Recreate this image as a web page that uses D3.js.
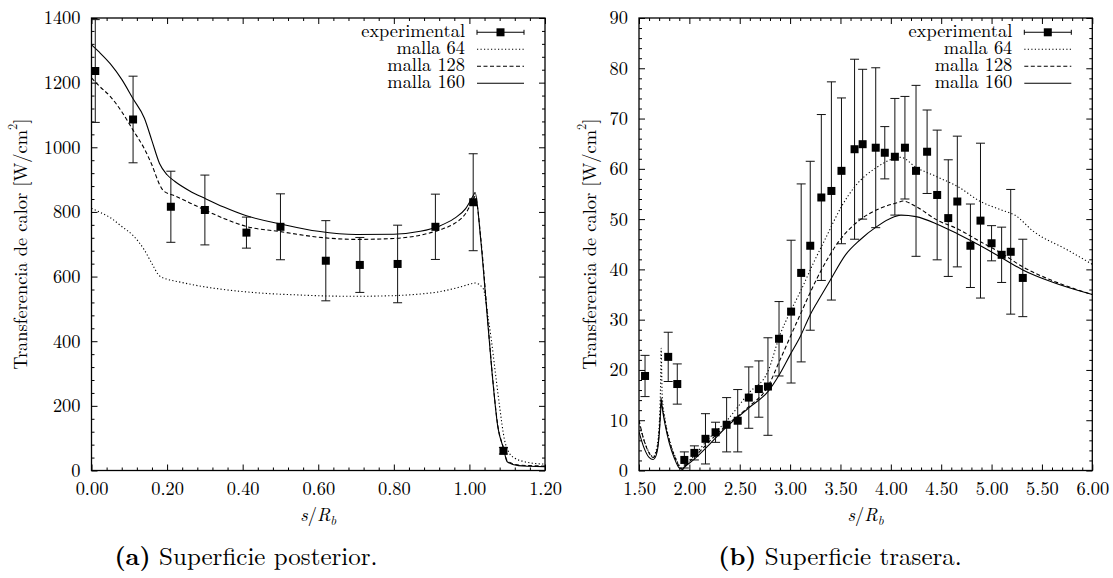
<!DOCTYPE html>
<html>
<head>
  <meta charset="utf-8">
  <title>transferencia de calor</title>
  <style>
    body { margin: 0; background: #fff; overflow: hidden; }
    .tick line { stroke: #000; stroke-width: 1; }
    .frame { fill: none; stroke: #000; stroke-width: 1.3; }
    .curve { fill: none; stroke: #000; stroke-width: 1.1; }
    .ebar { stroke: #111; stroke-width: 1; }
  </style>
</head>
<body>
<svg id="fig" width="1113" height="578"></svg>
<script src="https://cdn.jsdelivr.net/npm/d3@7"></script>
<script>
// ---- (a) superficie posterior ----
var postExpX   = [0.01, 0.11, 0.21, 0.30, 0.41, 0.50, 0.62, 0.71, 0.81, 0.91, 1.01, 1.09];
var postExpY   = [1236, 1086, 816, 806, 736, 754, 649, 636, 639, 754, 830, 61];
var postExpErr = [159, 134, 110, 108, 48, 102, 124, 85, 120, 101, 150, 10];

var post64X  = [0, 0.02, 0.05, 0.08, 0.11, 0.14, 0.16, 0.18, 0.20, 0.23, 0.29, 0.35, 0.46, 0.55, 0.62, 0.70, 0.80, 0.87, 0.92, 0.97, 1.01, 1.015, 1.036, 1.05, 1.058, 1.07, 1.08, 1.093, 1.106, 1.12, 1.14, 1.17, 1.20];
var post64Y  = [811, 800, 782, 755, 727, 682, 640, 602, 592, 584, 570, 560, 548, 543, 540, 539, 541, 546, 553, 566, 579, 580, 564, 470, 404, 290, 197, 94, 53, 38, 29, 22, 20];
var post128X = [0, 0.02, 0.05, 0.08, 0.11, 0.14, 0.16, 0.18, 0.19, 0.22, 0.26, 0.30, 0.35, 0.41, 0.50, 0.60, 0.70, 0.80, 0.87, 0.92, 0.96, 0.99, 1.01, 1.015, 1.03, 1.045, 1.06, 1.075, 1.09, 1.10, 1.13, 1.16, 1.20];
var post128Y = [1215, 1190, 1157, 1110, 1053, 995, 945, 885, 866, 850, 828, 806, 780, 755, 739, 722, 715, 718, 728, 744, 764, 795, 838, 848, 720, 515, 305, 140, 70, 30, 17, 15, 14];
var post160X = [0, 0.02, 0.05, 0.08, 0.11, 0.14, 0.16, 0.18, 0.20, 0.22, 0.26, 0.30, 0.35, 0.41, 0.50, 0.60, 0.70, 0.80, 0.87, 0.92, 0.96, 0.99, 1.01, 1.015, 1.03, 1.045, 1.06, 1.075, 1.09, 1.10, 1.13, 1.16, 1.20];
var post160Y = [1317, 1295, 1258, 1210, 1150, 1090, 1020, 950, 915, 895, 865, 842, 815, 788, 763, 740, 730, 731, 740, 756, 780, 810, 850, 860, 713, 507, 301, 136, 69, 27, 15, 13, 12];

// ---- (b) superficie trasera ----
var trasExpX   = [1.56, 1.79, 1.88, 1.95, 2.05, 2.16, 2.26, 2.37, 2.48, 2.59, 2.69, 2.78, 2.89, 3.01, 3.11, 3.20, 3.31, 3.41, 3.51, 3.64, 3.72, 3.85, 3.94, 4.04, 4.14, 4.25, 4.36, 4.46, 4.57, 4.66, 4.79, 4.89, 5.00, 5.10, 5.19, 5.31];
var trasExpY   = [18.8, 22.6, 17.2, 2.1, 3.5, 6.3, 7.6, 9.1, 9.9, 14.5, 16.2, 16.7, 26.2, 31.6, 39.3, 44.7, 54.3, 55.6, 59.6, 63.9, 64.9, 64.2, 63.2, 62.4, 64.2, 59.6, 63.4, 54.8, 50.2, 53.5, 44.7, 49.7, 45.2, 42.9, 43.5, 38.3];
var trasExpErr = [4.1, 4.9, 4.0, 1.6, 1.4, 5.0, 2.0, 5.4, 6.2, 6.1, 5.6, 9.7, 7.4, 14.2, 17.7, 16.8, 16.5, 21.7, 14.5, 17.9, 14.9, 15.9, 5.2, 11.6, 10.2, 17.0, 8.3, 12.9, 11.6, 13.0, 8.3, 15.4, 3.5, 5.5, 12.4, 7.7];

var tras64X  = [1.50, 1.55, 1.60, 1.64, 1.67, 1.70, 1.715, 1.72, 1.73, 1.76, 1.80, 1.85, 1.90, 1.93, 1.97, 2.04, 2.20, 2.37, 2.59, 2.78, 2.90, 3.00, 3.10, 3.23, 3.36, 3.51, 3.64, 3.86, 4.04, 4.10, 4.25, 4.46, 4.67, 4.89, 5.10, 5.23, 5.42, 5.75, 6.00];
var tras64Y  = [9.5, 6, 3.6, 2.7, 4, 9, 18, 24.3, 15, 10, 6.3, 3.2, 1.0, 0.3, 1.4, 2.8, 6.5, 9.9, 15.4, 19.7, 27, 31.5, 35.5, 41.2, 46.5, 52.5, 56.4, 60.3, 62.1, 62.3, 60.3, 58.4, 56.4, 53.5, 51.8, 50.8, 47.5, 43.9, 41.0];
var tras128X = [1.50, 1.55, 1.60, 1.64, 1.67, 1.70, 1.715, 1.72, 1.73, 1.76, 1.80, 1.85, 1.90, 1.93, 1.97, 2.04, 2.20, 2.37, 2.59, 2.78, 2.90, 3.10, 3.30, 3.50, 3.69, 3.89, 4.07, 4.12, 4.25, 4.46, 4.67, 4.89, 5.10, 5.31, 5.60, 6.00];
var tras128Y = [10, 6, 3.5, 2.6, 3.5, 7.5, 12.5, 14.5, 13, 9.5, 6, 3, 0.8, 0.2, 1.2, 2.5, 5.8, 9.0, 12.7, 16.7, 22, 31, 39.5, 46, 49.8, 52.1, 53.3, 53.6, 52.5, 49.8, 48.0, 45.5, 43.2, 40.5, 37.8, 35.0];
var tras160X = [1.50, 1.55, 1.60, 1.64, 1.67, 1.70, 1.715, 1.72, 1.73, 1.76, 1.80, 1.85, 1.90, 1.93, 1.97, 2.04, 2.20, 2.37, 2.60, 2.78, 2.90, 3.00, 3.10, 3.20, 3.30, 3.40, 3.55, 3.69, 3.86, 4.04, 4.10, 4.25, 4.46, 4.67, 4.89, 5.10, 5.31, 5.60, 6.00];
var tras160Y = [7.7, 4.5, 2.6, 2.2, 3, 7, 12, 14, 12.5, 9, 5.5, 2.5, 0.5, 0.3, 1.0, 2.1, 5.2, 8.7, 12.6, 15.7, 19.3, 23, 26.6, 31, 34.5, 37.9, 42.9, 45.8, 48.5, 50.5, 50.8, 50.5, 49.0, 47.0, 44.7, 42.3, 39.9, 37.5, 35.0];

var legendNames = ["experimental", "malla 64", "malla 128", "malla 160"];
var dashes = [null, "1.2,2.3", "4,2.5", null];
var FONT = "'Latin Modern Roman', 'CMU Serif', 'Liberation Serif', serif";

var svg = d3.select("#fig");

function zip(xs, ys) { return xs.map(function(v, i) { return [v, ys[i]]; }); }
function stepsOf(dom, step) {
  var n = Math.round((dom[1] - dom[0]) / step);
  return d3.range(n + 1).map(function(i) { return +(dom[0] + i*step).toFixed(6); });
}
function txt(sel, size) {
  return sel.style("font-family", FONT).style("font-size", size + "px").style("fill", "#000");
}

function drawPanel(p) {
  var x = d3.scaleLinear().domain(p.xDomain).range([p.left, p.right]);
  var y = d3.scaleLinear().domain(p.yDomain).range([p.bottom, p.top]);
  var g = svg.append("g");

  g.append("clipPath").attr("id", "clip" + p.id)
    .append("rect").attr("x", p.left).attr("y", p.top)
    .attr("width", p.right - p.left).attr("height", p.bottom - p.top);

  // ticks: major with labels (left/bottom), minor, mirrored top/right
  var xMaj = stepsOf(p.xDomain, p.xMajor);
  var xMin = stepsOf(p.xDomain, p.xMajor/5).filter(function(d, i) { return i % 5 !== 0; });
  var yMaj = stepsOf(p.yDomain, p.yMajor);
  var yMin = stepsOf(p.yDomain, p.yMajor/5).filter(function(d, i) { return i % 5 !== 0; });
  var none = function() { return ""; };

  function axisSet(axisFn, scale, pos, maj, min, fmt) {
    var a = g.append("g").attr("transform", pos);
    a.call(axisFn(scale).tickValues(maj).tickSize(-6).tickSizeOuter(0).tickPadding(11).tickFormat(fmt || none));
    a.select(".domain").remove();
    txt(a.selectAll("text"), 18.4);
    var b = g.append("g").attr("transform", pos);
    b.call(axisFn(scale).tickValues(min).tickSize(-3).tickSizeOuter(0).tickFormat(none));
    b.select(".domain").remove();
  }
  axisSet(d3.axisBottom, x, "translate(0," + p.bottom + ")", xMaj, xMin, d3.format(".2f"));
  axisSet(d3.axisTop, x, "translate(0," + p.top + ")", xMaj, xMin, null);
  axisSet(d3.axisLeft, y, "translate(" + p.left + ",0)", yMaj, yMin, d3.format("d"));
  axisSet(d3.axisRight, y, "translate(" + p.right + ",0)", yMaj, yMin, null);

  g.append("rect").attr("class", "frame")
    .attr("x", p.left).attr("y", p.top)
    .attr("width", p.right - p.left).attr("height", p.bottom - p.top);

  // simulated curves
  var line = d3.line().x(function(d) { return x(d[0]); }).y(function(d) { return y(d[1]); })
    .curve(d3.curveMonotoneX);
  var plot = g.append("g").attr("clip-path", "url(#clip" + p.id + ")");
  p.curves.forEach(function(c, i) {
    plot.append("path").attr("class", "curve")
      .attr("d", line(zip(c[0], c[1])))
      .attr("stroke-dasharray", dashes[i + 1]);
  });

  // experimental points with error bars
  var pts = p.expX.map(function(v, i) { return {x: v, y: p.expY[i], e: p.expErr[i]}; });
  var eb = plot.selectAll("g.eb").data(pts).enter().append("g").attr("class", "eb");
  eb.append("line").attr("class", "ebar")
    .attr("x1", function(d) { return x(d.x); }).attr("x2", function(d) { return x(d.x); })
    .attr("y1", function(d) { return y(d.y - d.e); }).attr("y2", function(d) { return y(d.y + d.e); });
  [-1, 1].forEach(function(s) {
    eb.append("line").attr("class", "ebar")
      .attr("x1", function(d) { return x(d.x) - 4.5; }).attr("x2", function(d) { return x(d.x) + 4.5; })
      .attr("y1", function(d) { return y(d.y + s*d.e); }).attr("y2", function(d) { return y(d.y + s*d.e); });
  });
  eb.append("rect")
    .attr("x", function(d) { return x(d.x) - 4; }).attr("y", function(d) { return y(d.y) - 4; })
    .attr("width", 8).attr("height", 8).attr("fill", "#000");

  // legend
  var lg = g.append("g");
  legendNames.forEach(function(name, i) {
    var ly = p.top + 14.3 + 17*i;
    txt(lg.append("text"), 18.4).attr("text-anchor", "end")
      .attr("x", p.right - 80).attr("y", ly + 5).text(name);
    var x0 = p.right - 68, x1 = p.right - 21;
    lg.append("line").attr("x1", x0).attr("x2", x1).attr("y1", ly).attr("y2", ly)
      .attr("stroke", "#000").attr("stroke-width", 1.1).attr("stroke-dasharray", dashes[i]);
    if (i === 0) {
      [x0, x1].forEach(function(xx) {
        lg.append("line").attr("x1", xx).attr("x2", xx).attr("y1", ly - 2.5).attr("y2", ly + 2.5)
          .attr("stroke", "#000").attr("stroke-width", 1);
      });
      lg.append("rect").attr("x", (x0 + x1)/2 - 4).attr("y", ly - 4).attr("width", 8).attr("height", 8);
    }
  });

  // axis titles
  var yl = txt(g.append("text"), 18.4)
    .attr("transform", "translate(" + p.ylabelX + "," + ((p.top + p.bottom)/2) + ") rotate(-90)")
    .attr("text-anchor", "middle").attr("dominant-baseline", "central");
  yl.append("tspan").text("Transferencia de calor [W/cm");
  yl.append("tspan").style("font-size", "12.5px").attr("dy", -7).text("2");
  yl.append("tspan").attr("dy", 7).text("]");

  var xl = txt(g.append("text"), 18.4)
    .attr("x", (p.left + p.right)/2).attr("y", 521).attr("text-anchor", "middle");
  xl.append("tspan").style("font-style", "italic").text("s");
  xl.append("tspan").text("/");
  xl.append("tspan").style("font-style", "italic").text("R");
  xl.append("tspan").style("font-style", "italic").style("font-size", "13px").attr("dy", 4).text("b");

  var cap = txt(g.append("text"), 25).attr("text-anchor", "middle").attr("x", p.capX).attr("y", 565);
  cap.append("tspan").style("font-weight", "bold").text(p.tag);
  cap.append("tspan").text(" " + p.caption);
}

drawPanel({
  id: "a", left: 91.5, right: 545, top: 18, bottom: 470.5,
  xDomain: [0, 1.2], yDomain: [0, 1400], xMajor: 0.2, yMajor: 200,
  expX: postExpX, expY: postExpY, expErr: postExpErr,
  curves: [[post64X, post64Y], [post128X, post128Y], [post160X, post160Y]],
  ylabelX: 19, capX: 246, tag: "(a)", caption: "Superficie posterior."
});
drawPanel({
  id: "b", left: 639, right: 1092.3, top: 18, bottom: 470.5,
  xDomain: [1.5, 6], yDomain: [0, 90], xMajor: 0.5, yMajor: 10,
  expX: trasExpX, expY: trasExpY, expErr: trasExpErr,
  curves: [[tras64X, tras64Y], [tras128X, tras128Y], [tras160X, tras160Y]],
  ylabelX: 588, capX: 840, tag: "(b)", caption: "Superficie trasera."
});
</script>
</body>
</html>
